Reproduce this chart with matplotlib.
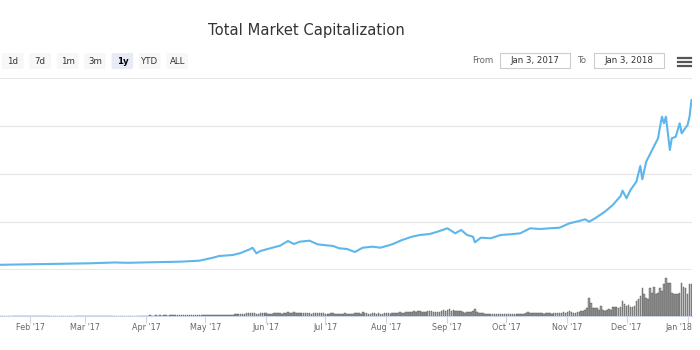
import matplotlib
matplotlib.use("Agg")
import matplotlib.pyplot as plt
import matplotlib.dates as mdates
from matplotlib.patches import FancyBboxPatch, Rectangle
from matplotlib.lines import Line2D
import pandas as pd

# total market cap (USD billions)
cap_dates = [
    "2017-01-17", "2017-02-01", "2017-02-16", "2017-03-03", "2017-03-16", "2017-03-23",
    "2017-04-03", "2017-04-18", "2017-04-28", "2017-05-05", "2017-05-08", "2017-05-15",
    "2017-05-19", "2017-05-24", "2017-05-25", "2017-05-27", "2017-05-29", "2017-06-03",
    "2017-06-08", "2017-06-12", "2017-06-15", "2017-06-18", "2017-06-23", "2017-06-27",
    "2017-06-30", "2017-07-05", "2017-07-08", "2017-07-12", "2017-07-16", "2017-07-20",
    "2017-07-25", "2017-07-29", "2017-08-04", "2017-08-09", "2017-08-14", "2017-08-18",
    "2017-08-23", "2017-08-27", "2017-09-01", "2017-09-05", "2017-09-08", "2017-09-11",
    "2017-09-14", "2017-09-15", "2017-09-18", "2017-09-23", "2017-09-28", "2017-10-03",
    "2017-10-08", "2017-10-13", "2017-10-18", "2017-10-23", "2017-10-28", "2017-11-02",
    "2017-11-07", "2017-11-10", "2017-11-12", "2017-11-15", "2017-11-20", "2017-11-24",
    "2017-11-28", "2017-11-29", "2017-12-01", "2017-12-03", "2017-12-06", "2017-12-08",
    "2017-12-09", "2017-12-11", "2017-12-14", "2017-12-17", "2017-12-18", "2017-12-19",
    "2017-12-20", "2017-12-21", "2017-12-23", "2017-12-24", "2017-12-26", "2017-12-28",
    "2017-12-29", "2018-01-01", "2018-01-02", "2018-01-03",
]
cap_values = [
    21.7, 23.8, 25.8, 27.9, 31.3, 30.0,
    32.1, 34.6, 38.8, 51.3, 58.3, 62.5,
    70.8, 87.5, 92.9, 69.6, 79.2, 90.4,
    101.3, 120.8, 108.3, 117.9, 122.1, 107.1,
    104.2, 100.0, 90.4, 87.5, 75.0, 92.9,
    97.1, 92.9, 107.1, 125.0, 138.8, 145.8,
    150.0, 159.6, 173.8, 152.9, 166.7, 145.8,
    138.8, 115.4, 134.6, 132.1, 145.8, 148.8,
    152.9, 173.8, 170.8, 173.8, 176.3, 194.6,
    204.2, 211.3, 201.3, 215.4, 242.9, 270.8,
    308.3, 330.4, 298.8, 333.3, 367.9, 433.3,
    377.9, 451.3, 500.0, 548.8, 597.1, 638.8,
    611.3, 638.8, 500.0, 548.8, 555.4, 611.3,
    569.6, 604.2, 638.8, 708.3,
]

# daily 24h volume (USD billions), from Jan 17 2017
vol_start = "2017-01-17"
vol_jan = [0.2, 0.3, 0.2, 0.2, 0.2, 0.2, 0.2, 0.3, 0.2, 0.2, 0.2, 0.2, 0.3, 0.2, 0.2]
vol_feb = [0.2, 0.3, 0.2, 0.2, 0.3, 0.2, 0.2, 0.3, 0.3, 0.2, 0.3, 0.2, 0.2, 0.3,
           0.2, 0.3, 0.3, 0.2, 0.3, 0.3, 0.2, 0.3, 0.3, 0.3, 0.2, 0.3, 0.3, 0.3]
vol_mar = [0.3, 0.4, 0.3, 0.3, 0.4, 0.3, 0.4, 0.4, 0.3, 0.5, 0.4, 0.3, 0.4, 0.4, 0.4, 0.5,
           0.4, 0.4, 0.5, 0.4, 0.4, 0.5, 0.4, 0.5, 0.4, 0.5, 0.5, 0.4, 0.5, 0.5, 0.4]
vol_apr = [0.5, 0.5, 0.6, 0.5, 0.5, 0.6, 0.5, 0.6, 0.5, 0.6, 0.6, 0.5, 0.6, 0.6, 0.7,
           0.6, 0.6, 0.7, 0.6, 0.7, 0.7, 0.6, 0.8, 0.7, 0.7, 0.8, 0.8, 0.7, 0.8, 0.9]
vol_may = [1.0, 1.3, 1.2, 1.5, 1.4, 1.2, 1.1, 1.3, 1.6, 1.4, 1.5, 1.3, 1.2, 1.4, 1.6, 2.0,
           2.3, 2.1, 2.6, 2.4, 2.8, 3.1, 3.4, 3.7, 3.2, 3.9, 2.8, 2.5, 3.0, 3.3, 3.1]
vol_jun = [3.0, 2.8, 2.6, 2.7, 3.2, 3.6, 3.3, 3.1, 2.9, 3.4, 3.8, 4.4, 3.7, 3.9, 4.6,
           3.8, 3.2, 3.0, 3.4, 3.6, 3.3, 3.5, 3.0, 2.8, 3.1, 3.9, 3.6, 3.0, 3.2, 3.1]
vol_jul = [2.8, 2.6, 2.9, 3.3, 3.1, 2.8, 2.7, 2.4, 2.3, 2.6, 3.0, 2.9, 2.7, 2.8, 2.5, 3.2,
           3.6, 3.3, 2.9, 4.2, 3.7, 3.1, 2.8, 2.6, 3.0, 3.2, 2.9, 3.1, 2.7, 2.4, 3.0]
vol_aug = [3.2, 3.0, 2.9, 3.1, 3.6, 3.4, 3.8, 4.2, 4.1, 3.9, 4.5, 4.8, 4.6, 5.2, 5.8, 4.9,
           5.6, 5.3, 4.7, 4.4, 5.0, 5.4, 6.0, 5.5, 5.1, 4.6, 4.2, 4.8, 5.6, 7.2, 6.2]
vol_sep = [6.6, 8.2, 6.4, 7.0, 6.0, 5.8, 5.5, 6.2, 4.2, 3.8, 4.4, 4.8, 5.0, 6.4, 8.4,
           5.2, 4.0, 3.4, 3.0, 2.6, 2.8, 2.5, 2.2, 2.0, 2.4, 2.6, 2.3, 2.1, 2.5, 2.2]
vol_oct = [2.0, 2.2, 1.9, 2.3, 2.1, 2.0, 1.8, 2.4, 2.6, 2.9, 3.2, 4.2, 3.8, 3.4, 3.0, 3.1,
           3.3, 3.6, 3.0, 2.8, 3.2, 3.5, 3.0, 2.9, 3.6, 3.4, 3.8, 3.1, 3.9, 4.3, 3.7]
vol_nov = [4.5, 5.4, 4.8, 4.0, 3.6, 4.2, 5.0, 5.8, 6.4, 7.2, 9.0, 21.1, 15.3, 9.4, 9.0,
           9.4, 7.0, 11.7, 7.6, 6.2, 7.0, 8.2, 7.6, 10.6, 10.0, 10.6, 9.4, 10.0, 17.6, 14.1]
vol_dec = [11.7, 12.4, 11.0, 10.2, 11.8, 17.6, 20.0, 23.5, 32.9, 25.8, 21.1, 20.0, 32.9,
           27.0, 34.0, 25.8, 27.0, 32.9, 29.4, 37.6, 44.6, 38.7, 38.7, 27.0, 25.8, 25.8,
           25.8, 27.0, 38.7, 34.0, 32.9]
vol_jan18 = [25.8, 37.6, 37.6]

month_ticks = ["2017-02-01", "2017-03-01", "2017-04-01", "2017-05-01", "2017-06-01",
               "2017-07-01", "2017-08-01", "2017-09-01", "2017-10-01", "2017-11-01",
               "2017-12-01", "2018-01-01"]
month_labels = ["Feb '17", "Mar '17", "Apr '17", "May '17", "Jun '17", "Jul '17",
                "Aug '17", "Sep '17", "Oct '17", "Nov '17", "Dec '17", "Jan '18"]

range_buttons = ["1d", "7d", "1m", "3m", "1y", "YTD", "ALL"]
selected_button = "1y"
date_from = "Jan 3, 2017"
date_to = "Jan 3, 2018"

plt.rcParams["font.family"] = ["DejaVu Sans"]

W, H = 700, 350
fig = plt.figure(figsize=(W / 100, H / 100), dpi=100)
fig.patch.set_facecolor("white")


def fx(px):
    return px / W


def fy(py):
    return 1 - py / H


cap_x = pd.to_datetime(cap_dates)
vol = (vol_jan + vol_feb + vol_mar + vol_apr + vol_may + vol_jun + vol_jul + vol_aug
       + vol_sep + vol_oct + vol_nov + vol_dec + vol_jan18)
vol_x = pd.date_range(vol_start, periods=len(vol), freq="D")
x_lo = mdates.date2num(pd.Timestamp("2017-01-16 18:00"))
x_hi = mdates.date2num(pd.Timestamp("2018-01-03 06:00"))

# main price panel
ax = fig.add_axes([0, fy(270), fx(692), (270 - 78) / H])
ax.plot(cap_x, cap_values, color="#5db6ec", lw=1.5, solid_joinstyle="round")
ax.set_xlim(x_lo, x_hi)
ax.set_ylim(0, 800)
ax.set_yticks([200, 400, 600, 800])
ax.grid(axis="y", color="#e6e6e6", lw=0.8)
ax.axhline(0, color="#e8e8e8", lw=2.2, zorder=0)
ax.set_xticks([])
ax.tick_params(left=False, labelleft=False)
for s in ax.spines.values():
    s.set_visible(False)

# volume panel
axv = fig.add_axes([0, fy(316), fx(692), 46 / H])
axv.bar(vol_x, vol, width=0.8, color="#999999", edgecolor="#555555", linewidth=0.3)
axv.set_xlim(x_lo, x_hi)
axv.set_ylim(0, 54)
axv.set_yticks([])
tick_x = pd.to_datetime(month_ticks)
axv.set_xticks(tick_x)
axv.set_xticklabels([])
axv.tick_params(axis="x", length=5, width=0.8, color="#ccd6eb", direction="out")
for s in ["top", "left", "right"]:
    axv.spines[s].set_visible(False)
axv.spines["bottom"].set_color("#ccd6eb")
axv.spines["bottom"].set_linewidth(0.8)
for i, (t, lab) in enumerate(zip(tick_x, month_labels)):
    if i == len(month_labels) - 1:
        axv.text(1.0, -11 / 46, lab, transform=axv.transAxes, ha="right", va="center",
                 fontsize=5.8, color="#666666")
    else:
        axv.text(t, -11 / 46, lab, transform=axv.get_xaxis_transform(), ha="center",
                 va="center", fontsize=5.8, color="#666666")

# title
fig.text(fx(306), fy(30), "Total Market Capitalization", ha="center", va="center",
         fontsize=10.6, color="#333333")

# range selector buttons
for i, lab in enumerate(range_buttons):
    x0 = 2 + i * 27.4
    sel = lab == selected_button
    fig.patches.append(FancyBboxPatch(
        (fx(x0), fy(69)), fx(21.5), 16 / H,
        boxstyle="round,pad=0,rounding_size=0.003",
        transform=fig.transFigure, facecolor="#e6ebf5" if sel else "#f7f7f7",
        edgecolor="none"))
    fig.text(fx(x0 + 10.75), fy(61), lab, ha="center", va="center", fontsize=6.2,
             color="#000000" if sel else "#333333",
             fontweight="bold" if sel else "normal")

# date inputs
fig.text(fx(483), fy(60.5), "From", ha="center", va="center", fontsize=6.2, color="#666666")
fig.text(fx(582.5), fy(60.5), "To", ha="center", va="center", fontsize=6.2, color="#666666")
for x0, lab in [(500, date_from), (594, date_to)]:
    fig.patches.append(Rectangle((fx(x0), fy(68)), fx(69.5), 14.5 / H,
                                 transform=fig.transFigure, facecolor="white",
                                 edgecolor="#cccccc", lw=0.8))
    fig.text(fx(x0 + 34.75), fy(60.5), lab, ha="center", va="center", fontsize=6.2,
             color="#333333")

# export menu icon
for yy in [58, 62, 66]:
    fig.lines.append(Line2D([fx(678), fx(691)], [fy(yy), fy(yy)], transform=fig.transFigure,
                            color="#555555", lw=1.6))

fig.savefig("out.png", dpi=100, facecolor="white")
